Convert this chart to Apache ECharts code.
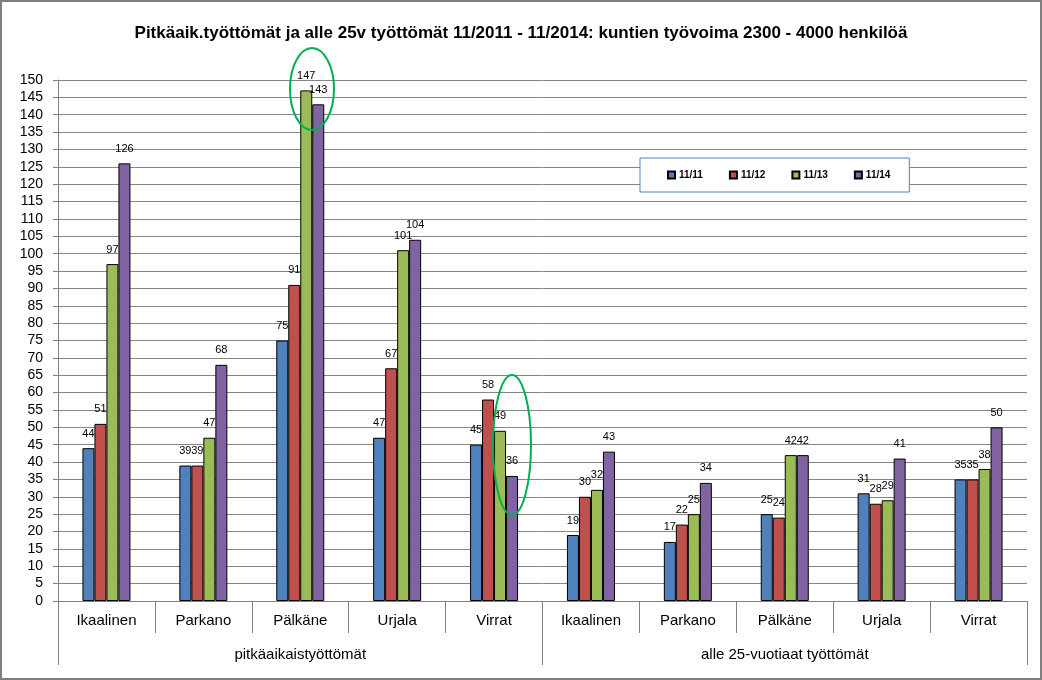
<!DOCTYPE html>
<html>
<head>
<meta charset="utf-8">
<script src="https://cdn.jsdelivr.net/npm/echarts@6/dist/echarts.min.js"></script>
<style>
  html, body { margin: 0; padding: 0; background: #fff; }
  #chart { width: 1042px; height: 680px; }
</style>
</head>
<body>
<div id="chart"></div>
<script>
  // kunnat, kaksi ryhmää
  const towns = ['Ikaalinen', 'Parkano', 'Pälkäne', 'Urjala', 'Virrat',
    'Ikaalinen', 'Parkano', 'Pälkäne', 'Urjala', 'Virrat']
  const groups = ['pitkäaikaistyöttömät', 'alle 25-vuotiaat työttömät']
  const seriesNames = ['11/11', '11/12', '11/13', '11/14']
  const v1111 = [44, 39, 75, 47, 45, 19, 17, 25, 31, 35]
  const v1112 = [51, 39, 91, 67, 58, 30, 22, 24, 28, 35]
  const v1113 = [97, 47, 147, 101, 49, 32, 25, 42, 29, 38]
  const v1114 = [126, 68, 143, 104, 36, 43, 34, 42, 41, 50]
  const colors = ['#4F81BD', '#C0504D', '#9BBB59', '#8064A2']

  const font = "'Liberation Sans', sans-serif"
  const chart = echarts.init(document.getElementById('chart'))

  const values = [v1111, v1112, v1113, v1114]
  const series = values.map((d, i) => ({
    name: seriesNames[i],
    type: 'bar',
    data: d,
    barWidth: 12,
    barGap: '0%',
    itemStyle: { color: colors[i], borderColor: '#000', borderWidth: 1 },
    label: {
      show: true,
      position: 'top',
      distance: 9,
      color: '#000',
      fontSize: 11,
      fontFamily: font
    }
  }))

  const option = {
    animation: false,
    title: {
      text: 'Pitkäaik.työttömät ja alle 25v työttömät 11/2011 - 11/2014: kuntien työvoima 2300 - 4000 henkilöä',
      left: 'center',
      top: 20,
      textStyle: { fontSize: 17, fontWeight: 'bold', color: '#000', fontFamily: font }
    },
    legend: {
      data: seriesNames,
      left: 640,
      top: 158,
      padding: [12, 19, 12, 27],
      itemGap: 26,
      itemWidth: 7,
      itemHeight: 7,
      icon: 'rect',
      backgroundColor: '#fff',
      borderColor: '#4F81BD',
      borderWidth: 1,
      borderRadius: 0,
      textStyle: { fontSize: 10, fontWeight: 'bold', color: '#000', fontFamily: font, padding: [0, 0, 0, -1] }
    },
    grid: { left: 58, right: 15, top: 80, bottom: 79 },
    xAxis: [
      {
        type: 'category',
        data: towns,
        position: 'bottom',
        axisLine: { lineStyle: { color: '#808080' } },
        axisTick: { show: true, length: 32, lineStyle: { color: '#808080' } },
        axisLabel: { margin: 12, fontSize: 15, color: '#000', fontFamily: font, interval: 0 }
      },
      {
        type: 'category',
        data: groups,
        position: 'bottom',
        axisLine: { show: false },
        axisTick: { show: true, length: 64, lineStyle: { color: '#808080' } },
        axisLabel: { margin: 46, fontSize: 15, color: '#000', fontFamily: font }
      }
    ],
    yAxis: {
      type: 'value',
      min: 0,
      max: 150,
      interval: 5,
      axisLine: { show: true, lineStyle: { color: '#808080' } },
      axisTick: { show: true, length: 5, lineStyle: { color: '#808080' } },
      axisLabel: { margin: 15, fontSize: 14, color: '#000', fontFamily: font },
      splitLine: { lineStyle: { color: '#868686', width: 1 } }
    },
    series: series,
    graphic: [
      {
        type: 'rect',
        shape: { x: 1, y: 1, width: 1040, height: 678 },
        style: { fill: null, stroke: '#7f7f7f', lineWidth: 2 },
        silent: true
      },
      {
        type: 'ellipse',
        shape: { cx: 312, cy: 89, rx: 22, ry: 41 },
        style: { fill: null, stroke: '#00B050', lineWidth: 2 },
        z: 100
      },
      {
        type: 'ellipse',
        shape: { cx: 512, cy: 445, rx: 19, ry: 70 },
        style: { fill: null, stroke: '#00B050', lineWidth: 2 },
        z: 100
      }
    ]
  }

  chart.setOption(option)
</script>
</body>
</html>
